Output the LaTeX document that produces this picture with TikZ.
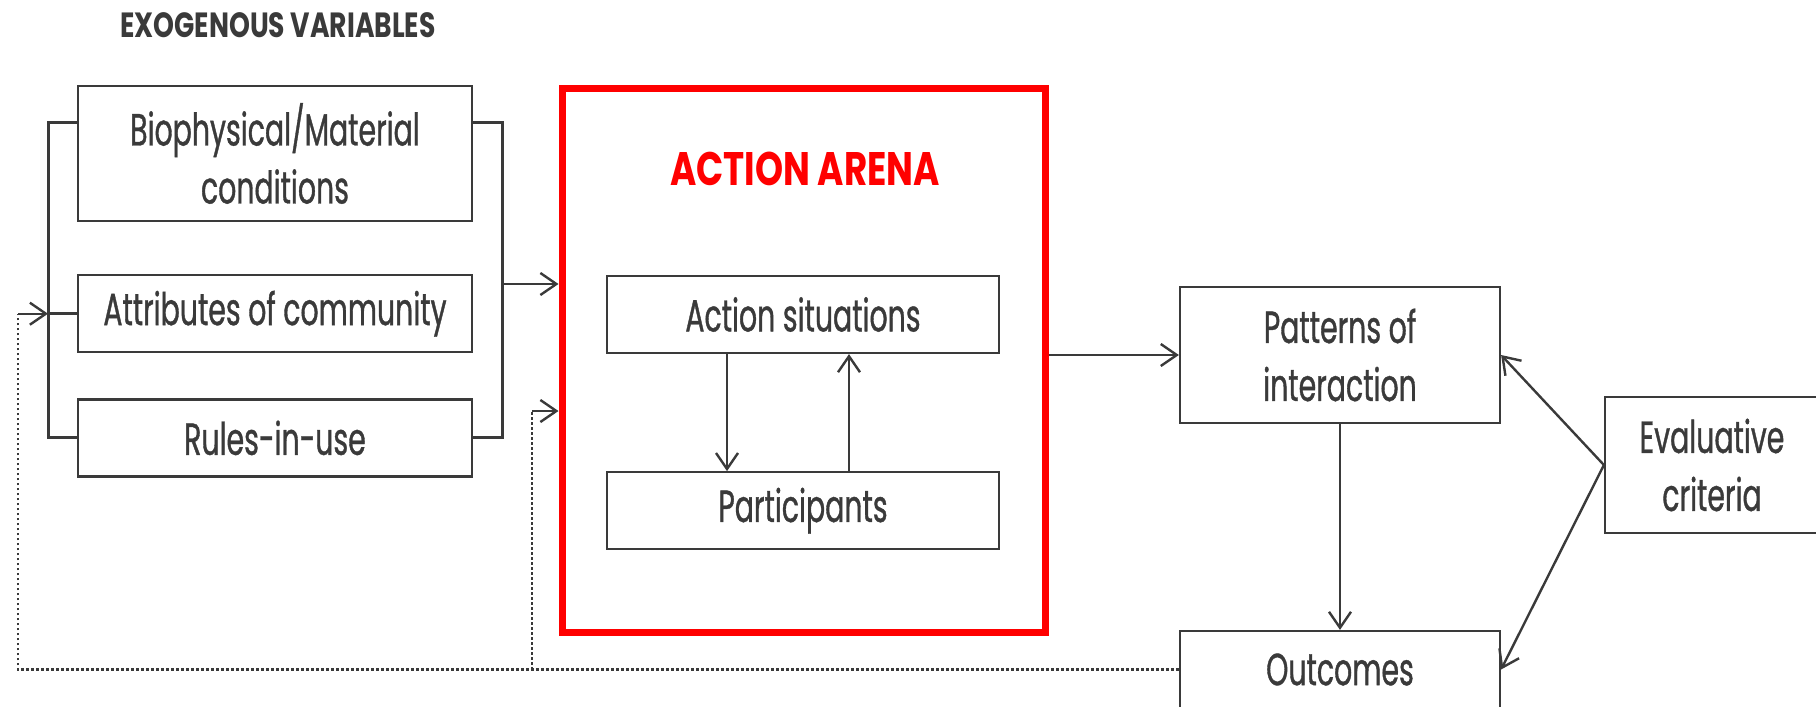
\documentclass[tikz,border=0pt]{standalone}
\usepackage{fontspec}
\setmainfont{Poppins}[FakeStretch=0.63,UprightFeatures={FakeBold=0.8},BoldFeatures={FakeStretch=0.76}]
\usetikzlibrary{positioning,calc,arrows.meta}
\definecolor{ink}{HTML}{3A3A3A}
\definecolor{arenared}{HTML}{FF0000}

\begin{document}
\begin{tikzpicture}[x=1pt,y=-1pt,
				box/.style={draw=ink,line width=2.2pt,minimum width=394pt,minimum height=77pt,inner sep=0pt,align=center,text=ink,font=\fontsize{45}{58}\selectfont},
				arr/.style={draw=ink,line width=2.4pt,-{Straight Barb[length=16pt,width=22pt]}},
				bracket/.style={draw=ink,line width=3pt},
				fb/.style={draw=ink,line width=2.5pt,dash pattern=on 2.5pt off 2.5pt}]
				\useasboundingbox (0,0) rectangle (1816,707);
				\clip (0,0) rectangle (1816,707);
				% exogenous variables
				\node (exo)   [text=ink,font=\fontsize{35}{40}\selectfont\bfseries] at (278,25) {EXOGENOUS VARIABLES};
				\node (bio)   [box,minimum height=135pt] at (275,153.5) {Biophysical/Material\\conditions};
				\node (attr)  [box,below=52pt of bio]  {Attributes of community};
				\node (rules) [box,below=45pt of attr] {Rules-in-use};
				% action arena
				\node (arena) [draw=arenared,line width=7pt,minimum width=483pt,minimum height=544pt] at (803.5,360) {};
				\node (arenatitle) [text=arenared,font=\fontsize{47}{52}\selectfont\bfseries] at (805,169) {ACTION ARENA};
				\node (situations)   [box,minimum width=392pt] at (803,314.5) {Action situations};
				\node (participants) [box,minimum width=392pt,below=117pt of situations] {Participants};
				% outputs
				\node (patterns) [box,minimum width=320pt,minimum height=136pt] at (1340,355) {Patterns of\\interaction};
				\node (outcomes) [box,minimum width=320pt] at (1340,669.5) {Outcomes};
				\node (eval)     [box,minimum width=214pt,minimum height=136pt] at (1712,465) {Evaluative\\criteria};

				\coordinate (lspine) at (48,0);
				\coordinate (rspine) at (502,0);
				\coordinate (rin)    at (502,284);
				\coordinate (fbl)    at (18,0);
				\coordinate (fbin)   at (532,411);

				\draw[bracket] ($(bio.north west)+(0,38)$) -| (lspine |- rules.west) -- (rules.west);
				\draw[bracket] (attr.west) -- (lspine |- attr.west);
				\draw[bracket] ($(bio.north east)+(0,38)$) -| (rspine |- rules.east) -- (rules.east);
				\draw[arr] (rin) -- (rin -| arena.west);

				\draw[arr] ([xshift=-76pt]situations.south) -- ([xshift=-76pt]participants.north);
				\draw[arr] ([xshift=46pt]participants.north) -- ([xshift=46pt]situations.south);
				\draw[arr] (arena.east |- patterns.west) -- (patterns.west);
				\draw[arr] (patterns) -- (outcomes);
				\draw[arr] (eval.west) -- (patterns.east);
				\draw[arr] (eval.west) -- (outcomes.east);

				\draw[fb] (outcomes.west) -| (fbl |- attr.west);
				\draw[arr] (fbl |- attr.west) -- (lspine |- attr.west);
				\draw[fb] (fbin |- outcomes.west) -- (fbin);
				\draw[arr] (fbin) -- (fbin -| arena.west);
\end{tikzpicture}
\end{document}
